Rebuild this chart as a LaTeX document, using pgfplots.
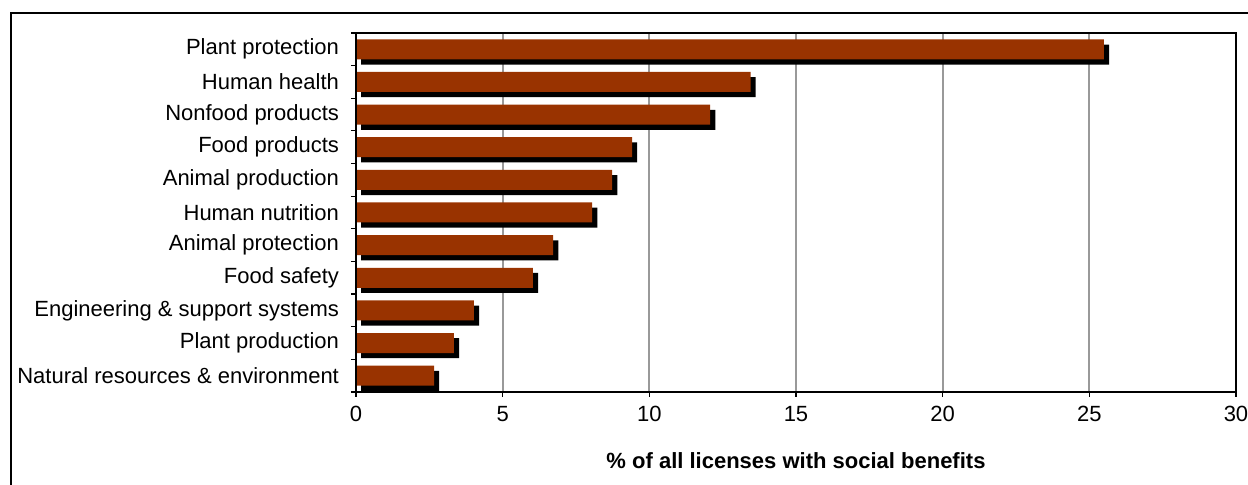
\documentclass[border=0pt]{standalone}
\usepackage{fontspec}
\setmainfont{Liberation Sans}
\usepackage{pgfplots}
\pgfplotsset{compat=1.18}
\definecolor{barbrown}{HTML}{993300}
\definecolor{gridgray}{HTML}{999999}
\begin{document}
\begin{tikzpicture}
\begin{axis}[
  name=ax,
  scale only axis,
  width=440pt, height=179.5pt,
  xmin=0, xmax=30, ymin=-0.5, ymax=10.5,
  xbar, bar width=10pt,
  xtick={0,5,...,30},
  ytick={0,...,10},
  yticklabels={Natural resources \& environment, Plant production, Engineering \& support systems, Food safety, Animal protection, Human nutrition, Animal production, Food products, Nonfood products, Human health, Plant protection},
  minor ytick={-0.5,0.5,...,10.5},
  tick align=outside, tick pos=left,
  major tick length=2.5pt, minor tick length=2.5pt,
  major y tick style={draw=none},
  minor y tick style={black, line width=0.6pt},
  major x tick style={black, line width=0.6pt},
  xmajorgrids,
  major x grid style={gridgray, line width=1.1pt},
  axis line style={line width=1pt},
  /pgf/number format/assume math mode=true,
  tick label style={font=\fontsize{11pt}{13.2pt}\selectfont},
  xticklabel style={yshift=-1.2pt},
  yticklabel style={xshift=-2.5pt},
  xlabel={\textbf{\% of all licenses with social benefits}},
  every axis x label/.style={at={(axis description cs:0.5,0)}, anchor=center, yshift=-34.5pt, font=\fontsize{11pt}{13.2pt}\selectfont},
]
\addplot[fill=black, draw=none, bar shift=0pt, xshift=2.6pt, yshift=-2.6pt] coordinates {
(2.66,0) (3.34,1) (4.02,2) (6.03,3) (6.72,4) (8.05,5) (8.73,6) (9.41,7) (12.07,8) (13.45,9) (25.5,10)};
\addplot[fill=barbrown, draw=none, bar shift=0pt] coordinates {
(2.66,0) (3.34,1) (4.02,2) (6.03,3) (6.72,4) (8.05,5) (8.73,6) (9.41,7) (12.07,8) (13.45,9) (25.5,10)};
\end{axis}
\draw[line width=1pt] (ax.south west) -- (ax.north west);
\draw[line width=0.7pt] ([xshift=-172.5pt, yshift=-60pt]ax.south west) -- ([xshift=-172.5pt, yshift=10pt]ax.north west) -- ([xshift=30pt, yshift=10pt]ax.north east);
\pgfresetboundingbox
\useasboundingbox ([xshift=-178pt, yshift=-46.5pt]ax.south west) rectangle ([xshift=6pt, yshift=16.5pt]ax.north east);
\end{tikzpicture}
\end{document}
